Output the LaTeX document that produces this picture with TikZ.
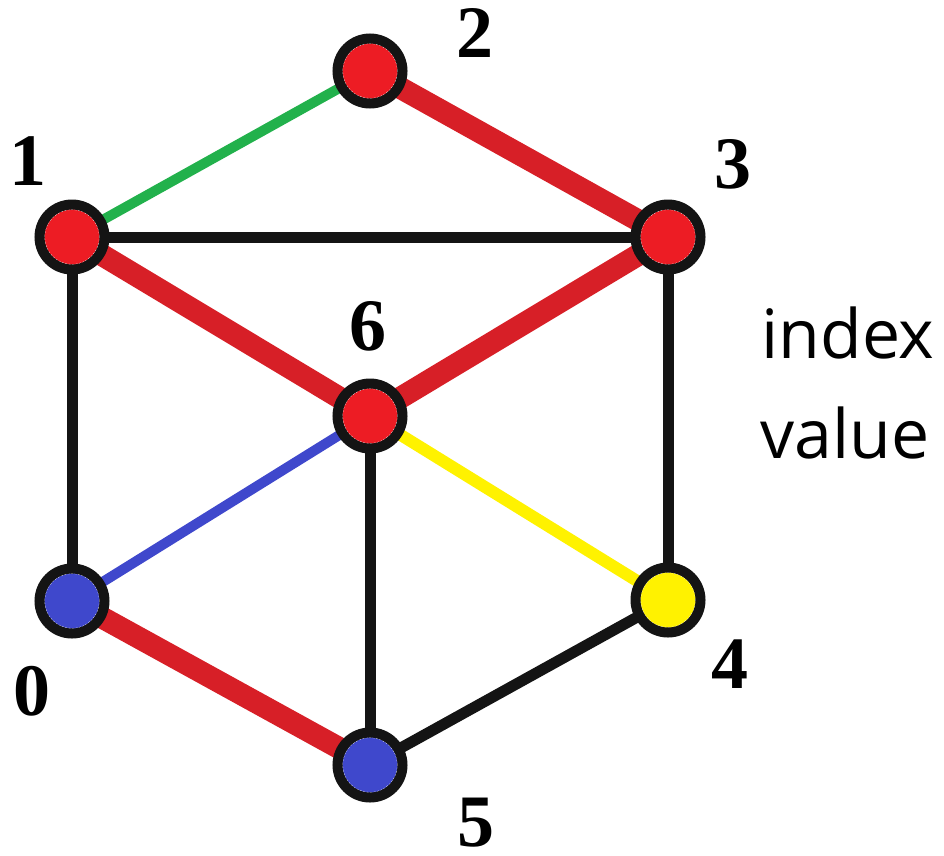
\documentclass[tikz,border=0pt]{standalone}
\usepackage{fontspec}
\setmainfont{Liberation Serif}
\newfontfamily\labsans{Open Sans}
\usetikzlibrary{backgrounds}
\definecolor{nred}{HTML}{ED1C24}
\definecolor{ered}{HTML}{D71F27}
\definecolor{egreen}{HTML}{22B14C}
\definecolor{eblue}{HTML}{3F48CC}
\definecolor{eyellow}{HTML}{FFF200}
\definecolor{eblack}{HTML}{141414}
\tikzset{
  vtx/.style={circle, draw=eblack, line width=10pt, minimum size=65pt, inner sep=0pt,
    path picture={\draw[white, line width=0.6pt, dash pattern=on 2pt off 1.5pt]
      (path picture bounding box.center) circle (27.5pt);}},
  numlab/.style={anchor=base, inner sep=0pt, font=\fontsize{74}{74}\selectfont\bfseries},
  sidelab/.style={anchor=base, inner sep=0pt, font=\labsans\fontsize{68}{68}\selectfont},
  thick red/.style={draw=ered, line width=22pt},
  blackedge/.style={draw=eblack, line width=11pt},
}
\begin{document}
\begin{tikzpicture}[x=1pt, y=-1pt]
\useasboundingbox (0,0) rectangle (944,855);
\node[vtx, fill=nred] (n2) at (370,71) {};
\node[vtx, fill=nred] (n1) at (72,237) {};
\node[vtx, fill=nred] (n3) at (668,237) {};
\node[vtx, fill=nred] (n6) at (370,416) {};
\node[vtx, fill=eblue] (n0) at (72,601) {};
\node[vtx, fill=eyellow] (n4) at (668,600) {};
\node[vtx, fill=eblue] (n5) at (370,765) {};
\begin{pgfonlayer}{background}
\draw[draw=egreen, line width=10pt] (n1.center) -- (n2.center);
\draw[thick red] (n2.center) -- (n3.center);
\draw[blackedge] (n1.center) -- (n3.center);
\draw[thick red] (n1.center) -- (n6.center);
\draw[thick red] (n3.center) -- (n6.center);
\draw[blackedge] (n1.center) -- (n0.center);
\draw[blackedge] (n3.center) -- (n4.center);
\draw[draw=eblue, line width=10pt] (n6.center) -- (n0.center);
\draw[draw=eyellow, line width=12pt] (n6.center) -- (n4.center);
\draw[blackedge] (n6.center) -- (n5.center);
\draw[thick red] (n0.center) -- (n5.center);
\draw[blackedge] (n5.center) -- (n4.center);
\end{pgfonlayer}
\node[numlab] (l2) at (475,57) {2};
\node[numlab] (l1) at (28,185) {1};
\node[numlab] (l3) at (733,188) {3};
\node[numlab] (l6) at (368,350) {6};
\node[numlab] (l0) at (32,715) {0};
\node[numlab] (l4) at (730,688) {4};
\node[numlab] (l5) at (476,846) {5};
\node[sidelab] (idx) at (848,358) {index};
\node[sidelab] (val) at (845,458) {value};
\end{tikzpicture}
\end{document}
